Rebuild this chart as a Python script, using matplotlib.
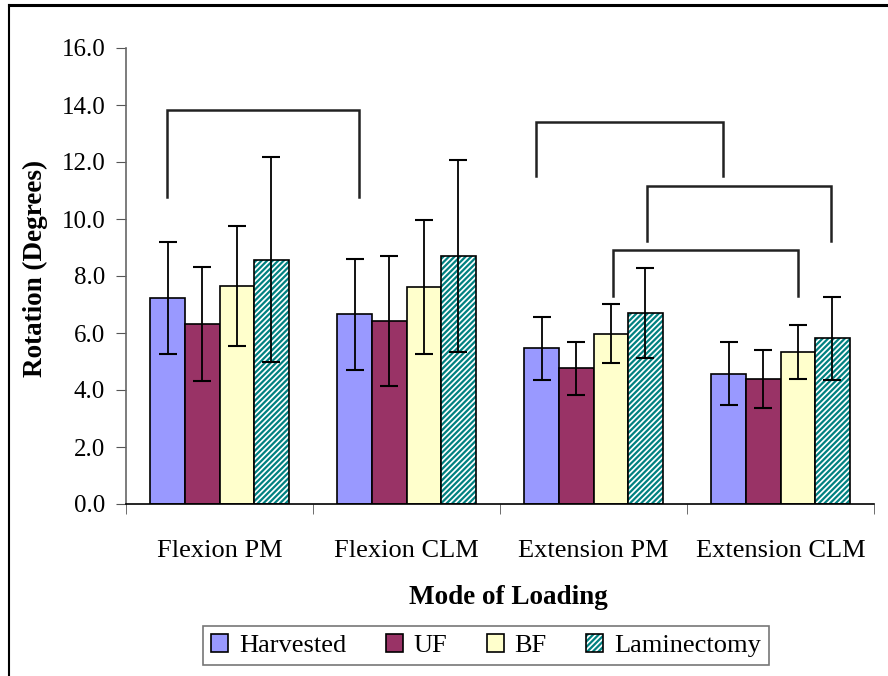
import matplotlib
matplotlib.use("Agg")
import matplotlib.pyplot as plt
import matplotlib.patches as mpatches
from matplotlib.lines import Line2D
import numpy as np

plt.rcParams['font.family'] = ['Liberation Serif', 'DejaVu Serif']
plt.rcParams['hatch.linewidth'] = 1.6

# data
modes = ["Flexion PM", "Flexion CLM", "Extension PM", "Extension CLM"]
groups = ["Harvested", "UF", "BF", "Laminectomy"]
harvested = [7.23, 6.65, 5.46, 4.57]
harvested_err = [1.98, 1.94, 1.10, 1.10]
uf = [6.33, 6.41, 4.76, 4.39]
uf_err = [2.00, 2.28, 0.94, 1.02]
bf = [7.66, 7.60, 5.98, 5.33]
bf_err = [2.10, 2.35, 1.03, 0.96]
lam = [8.57, 8.70, 6.71, 5.81]
lam_err = [3.60, 3.37, 1.57, 1.46]

# significance brackets: x start, x end, top, bottom of legs
brackets = [(-0.279, 0.744, 13.82, 10.78),
            (1.691, 2.691, 13.39, 11.51),
            (2.288, 3.270, 11.17, 9.24),
            (2.103, 3.095, 8.91, 7.30)]

colors = ["#9999FF", "#993366", "#FFFFCC", "#FFFFFF"]
teal = "#008080"

fig = plt.figure(figsize=(8.88, 6.76), dpi=100)
ax = fig.add_axes([126/888, 1-504/676, (874-126)/888, (504-48)/676])

x = np.arange(len(modes))
w = 0.185
series = [(harvested, harvested_err), (uf, uf_err), (bf, bf_err), (lam, lam_err)]
for i, (vals, errs) in enumerate(series):
    pos = x + (i - 1.5) * w
    if i == 3:
        ax.bar(pos, vals, w, color="white", edgecolor=teal, hatch="//////", linewidth=0, zorder=2)
        ax.bar(pos, vals, w, fill=False, edgecolor="black", linewidth=1.2, zorder=3)
    else:
        ax.bar(pos, vals, w, color=colors[i], edgecolor="black", linewidth=1.2, zorder=2)
    ax.errorbar(pos, vals, yerr=errs, fmt="none", ecolor="black", elinewidth=1.3,
                capsize=6.5, capthick=1.5, zorder=4)

for x0, x1, top, bot in brackets:
    ax.plot([x0, x0, x1, x1], [bot, top, top, bot], color="#222222", lw=1.8,
            solid_joinstyle="miter", zorder=5)

ax.set_xlim(-0.5, 3.5)
ax.set_ylim(0, 16)
ax.set_yticks(np.arange(0, 17, 2))
ax.set_yticklabels(["%.1f" % v for v in np.arange(0, 17, 2)], fontsize=18)
ax.set_xticks(x)
ax.set_xticklabels(modes, fontsize=19)
ax.set_xticks(np.arange(-0.5, 4, 1), minor=True)
ax.tick_params(axis="x", which="major", length=0, pad=26)
ax.tick_params(axis="x", which="minor", length=7, direction="out", color="#555555")
ax.tick_params(axis="y", length=7, direction="out", color="#555555", pad=8)

for s in ["top", "right"]:
    ax.spines[s].set_visible(False)
ax.spines["left"].set_color("#666666")
ax.spines["left"].set_linewidth(1.2)
ax.spines["bottom"].set_color("black")
ax.spines["bottom"].set_linewidth(1.2)

fig.text(508/888, 1-597/676, "Mode of Loading", fontsize=19.5, fontweight="bold",
         ha="center", va="center")
fig.text(35/888, 1-268/676, "Rotation (Degrees)", fontsize=19.5, fontweight="bold",
         ha="center", va="center", rotation=90)

handles = [mpatches.Patch(facecolor=colors[0], edgecolor="black", linewidth=1.2),
           mpatches.Patch(facecolor=colors[1], edgecolor="black", linewidth=1.2),
           mpatches.Patch(facecolor=colors[2], edgecolor="black", linewidth=1.2),
           (mpatches.Patch(facecolor="white", edgecolor=teal, hatch="//////", linewidth=0),
            mpatches.Patch(fill=False, edgecolor="black", linewidth=1.2))]
leg = fig.legend(handles, groups, loc="center", bbox_to_anchor=(486/888, 1-645.5/676),
                 ncol=4, fontsize=19, frameon=True, fancybox=False, handlelength=0.65,
                 handleheight=0.65, handletextpad=0.4, columnspacing=1.5,
                 borderpad=0.3)
leg.get_frame().set_edgecolor("#555555")
leg.get_frame().set_linewidth(1.2)

# outer frame of the picture
fig.add_artist(Line2D([9/888, 9/888], [0, 1-5/676], transform=fig.transFigure,
                      color="black", lw=1.5))
fig.add_artist(Line2D([9/888, 1], [1-5/676, 1-5/676], transform=fig.transFigure,
                      color="black", lw=2.2))

fig.savefig("out.png", dpi=100)
